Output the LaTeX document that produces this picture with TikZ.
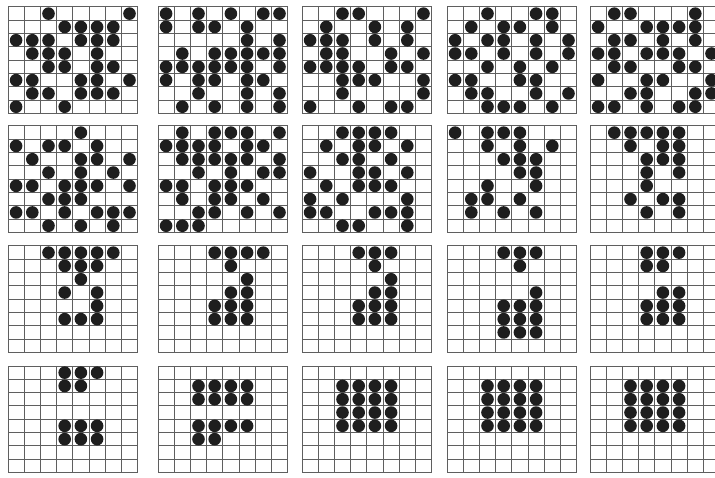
\documentclass[tikz,border=0pt]{standalone}
\usepackage{tikz}
\usetikzlibrary{calc}
\definecolor{gridgray}{RGB}{95, 95, 95}
\definecolor{dotblack}{RGB}{30, 30, 30}
\def\cw{16.2}
\def\ch{13.3}
% one 8x8 board: top-left corner and rows as row/{columns}
\newcommand{\lifeboard}[3]{%
  \begin{scope}[shift={(#1,-#2)}]
    \fill[white] (0,0) rectangle ({8*\cw},{-8*\ch});
    \foreach \k in {0,...,8}{
      \draw[gridline] ({\k*\cw},0) -- ({\k*\cw},{-8*\ch});
      \draw[gridline] (0,{-\k*\ch}) -- ({8*\cw},{-\k*\ch});
    }
    \foreach \r/\cols in {#3}{
      \foreach \c in \cols
        \fill[celldot] ({(\c-0.5)*\cw},{-(\r-0.5)*\ch}) circle (6.3);
    }
  \end{scope}}

\begin{document}
\begin{tikzpicture}[x=1pt, y=1pt,
    gridline/.style={draw=gridgray, line width=1pt},
    celldot/.style={fill=dotblack}]
  \useasboundingbox (0,0) rectangle (715,-478);
  \fill[white] (0,0) rectangle (715,-478);
  \clip (0,0) rectangle (715,-478);
  % Row 1
  \lifeboard{8}{7}{1/{3,8},2/{4,5,6,7},3/{1,2,3,5,6,7},4/{2,3,4,6},5/{3,4,6,7},6/{1,2,5,6,8},7/{2,3,5,6,7},8/{1,4}}
  \lifeboard{158}{7}{1/{1,3,5,7,8},2/{1,3,4,6},3/{6,8},4/{2,4,5,6,7,8},5/{1,2,3,4,5,6,8},6/{1,3,4,6,7},7/{3,6,8},8/{2,4,6,8}}
  \lifeboard{302}{7}{1/{3,4,8},2/{2,5,7},3/{1,2,3,5,7},4/{2,3,6,8},5/{1,2,3,4,6,7},6/{3,4,5,8},7/{3,8},8/{1,4,6,7}}
  \lifeboard{447}{7}{1/{3,6,7},2/{2,4,5,7},3/{1,3,4,6,8},4/{1,2,4,6,8},5/{3,5,7},6/{1,2,5,6},7/{2,3,6,8},8/{3,4,5,7}}
  \lifeboard{590}{7}{1/{2,3,7},2/{1,4,5,6,7},3/{2,3,5,7},4/{1,2,4,5,6,8},5/{2,3,6,7},6/{1,4,5,8},7/{3,4,7,8},8/{1,2,4,6,7}}
  % Row 2
  \lifeboard{8}{126}{1/{5},2/{1,3,4,6},3/{2,5,6,8},4/{3,5,7},5/{1,2,4,5,6,8},6/{3,4,5},7/{1,2,4,6,7,8},8/{3,5,7}}
  \lifeboard{158}{126}{1/{2,4,5,6,8},2/{1,2,3,4,6,7},3/{2,3,4,5,6,8},4/{3,5,7,8},5/{1,2,4,5,6},6/{2,4,5,7},7/{3,4,6,8},8/{1,2,3}}
  \lifeboard{302}{126}{1/{3,4,5,6},2/{2,4,5,7},3/{3,4,6},4/{1,4,5,7},5/{2,4,5,6},6/{1,3,7},7/{1,2,5,6,7},8/{3,4,7}}
  \lifeboard{447}{126}{1/{1,3,4,5},2/{3,5,7},3/{4,5,6},4/{5,6},5/{3,6},6/{2,3,5},7/{2,4,6}}
  \lifeboard{590}{126}{1/{2,3,4,5,6},2/{3,5,6},3/{4,5,6},4/{4,6},5/{4},6/{3,5,6},7/{4,6}}
  % Row 3
  \lifeboard{8}{246}{1/{3,4,5,6,7},2/{4,5,6},3/{5},4/{4,6},5/{6},6/{4,5,6}}
  \lifeboard{158}{246}{1/{4,5,6,7},2/{5},3/{6},4/{5,6},5/{4,5,6},6/{4,5,6}}
  \lifeboard{302}{246}{1/{4,5,6},2/{5},3/{6},4/{5,6},5/{4,5,6},6/{4,5,6}}
  \lifeboard{447}{246}{1/{4,5,6},2/{5},4/{6},5/{4,5,6},6/{4,5,6},7/{4,5,6}}
  \lifeboard{590}{246}{1/{4,5,6},2/{4,5},4/{5,6},5/{4,5,6},6/{4,5,6}}
  % Row 4
  \lifeboard{8}{366}{1/{4,5,6},2/{4,5},5/{4,5,6},6/{4,5,6}}
  \lifeboard{158}{366}{2/{3,4,5,6},3/{3,4,5,6},5/{3,4,5,6},6/{3,4}}
  \lifeboard{302}{366}{2/{3,4,5,6},3/{3,4,5,6},4/{3,4,5,6},5/{3,4,5,6}}
  \lifeboard{447}{366}{2/{3,4,5,6},3/{3,4,5,6},4/{3,4,5,6},5/{3,4,5,6}}
  \lifeboard{590}{366}{2/{3,4,5,6},3/{3,4,5,6},4/{3,4,5,6},5/{3,4,5,6}}
\end{tikzpicture}
\end{document}
